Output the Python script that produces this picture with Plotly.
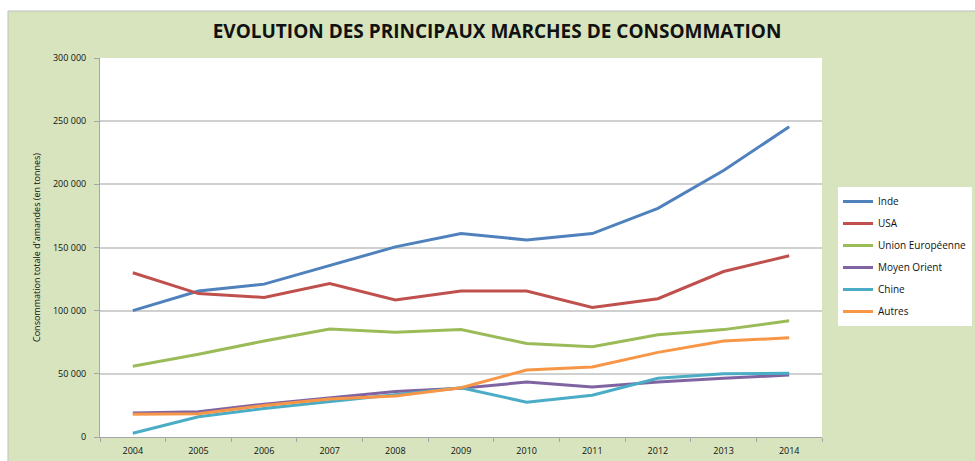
import plotly.graph_objects as go

# Consommation d'amandes par marché (tonnes)
years = ["2004", "2005", "2006", "2007", "2008", "2009", "2010", "2011", "2012", "2013", "2014"]

inde = [100000, 115500, 121000, 136000, 150500, 161000, 156000, 161000, 181000, 211000, 245500]
usa = [130000, 113500, 110500, 121500, 108500, 115500, 115500, 102500, 109500, 131000, 143500]
union_europeenne = [56000, 65500, 76000, 85500, 83000, 85000, 74000, 71500, 81000, 85000, 92000]
moyen_orient = [19000, 20000, 26000, 31000, 36000, 38500, 43500, 39500, 43500, 46500, 49000]
chine = [3000, 16000, 22500, 28000, 33000, 39000, 27500, 33000, 46500, 50000, 50500]
autres = [18000, 18500, 25000, 30000, 32500, 39000, 53000, 55500, 67000, 76000, 78500]

series = [
    ("Inde", inde, "#4F81BD"),
    ("USA", usa, "#C0504D"),
    ("Union Européenne", union_europeenne, "#9BBB59"),
    ("Moyen Orient", moyen_orient, "#8064A2"),
    ("Chine", chine, "#4BACC6"),
    ("Autres", autres, "#F79646"),
]

y_ticks = [0, 50000, 100000, 150000, 200000, 250000, 300000]
y_tick_labels = ["0", "50 000", "100 000", "150 000", "200 000", "250 000", "300 000"]

W, H = 975, 461
L, R, T, B = 100, 153, 58, 24
pw, ph = W - L - R, H - T - B

def px_x(x):
    return (x - L) / pw

def px_y(y):
    return (H - B - y) / ph

fig = go.Figure()
for name, vals, color in series:
    fig.add_trace(go.Scatter(
        x=years, y=vals, name=name, mode="lines",
        legendgroup=name,  # one group per series so tracegroupgap spaces entries
        line=dict(color=color, width=3),
    ))

green = "#D7E4BD"

# white strips along the top and left edges, outside the green chart area
fig.add_shape(type="rect", xref="paper", yref="paper", layer="below",
              x0=px_x(-2), x1=px_x(W + 2), y0=px_y(11), y1=px_y(-2),
              fillcolor="white", line=dict(width=0))
fig.add_shape(type="rect", xref="paper", yref="paper", layer="below",
              x0=px_x(-2), x1=px_x(8), y0=px_y(H + 2), y1=px_y(-2),
              fillcolor="white", line=dict(width=0))
# thin frame around the chart area
fig.add_shape(type="rect", xref="paper", yref="paper", layer="below",
              x0=px_x(8), x1=px_x(W + 2), y0=px_y(H + 2), y1=px_y(11),
              fillcolor="rgba(0,0,0,0)", line=dict(color="#BFBFBF", width=1))

fig.update_layout(
    width=W, height=H,
    margin=dict(l=L, r=R, t=T, b=B, autoexpand=False),
    paper_bgcolor=green,
    plot_bgcolor="white",
    font=dict(family="Open Sans, Liberation Sans, sans-serif", color="#111111"),
    title=dict(
        text="<b>EVOLUTION DES PRINCIPAUX MARCHES DE CONSOMMATION</b>",
        x=497 / W, xanchor="center", y=1 - 31 / H, yanchor="middle",
        font=dict(size=19, color="#111111"),
    ),
    showlegend=True,
    legend=dict(
        x=px_x(838), xanchor="left",
        y=px_y(187), yanchor="top",
        bgcolor="white", borderwidth=0,
        font=dict(size=10, color="#111111"),
        itemwidth=30, tracegroupgap=3,
    ),
    xaxis=dict(
        type="category", range=[-0.5, 10.5], automargin=False,
        showgrid=False, zeroline=False,
        showline=True, linecolor="#A6A6A6", linewidth=1,
        ticks="outside", tickson="boundaries", ticklen=4, tickcolor="#A6A6A6",
        ticklabelstandoff=5,
        tickfont=dict(size=9, color="#111111"),
    ),
    yaxis=dict(
        range=[0, 300000], automargin=False,
        tickvals=y_ticks, ticktext=y_tick_labels,
        showgrid=True, gridcolor="#D0D0D0", gridwidth=1.5,
        zeroline=False,
        showline=True, linecolor="#A6A6A6", linewidth=1,
        ticks="outside", ticklen=5, tickcolor="#A6A6A6",
        ticklabelstandoff=6,
        tickfont=dict(size=9, color="#111111"),
        title=dict(text="Consommation totale d'amandes (en tonnes)",
                   font=dict(size=9, color="#111111"), standoff=10),
    ),
)

fig.write_html("out.html")
